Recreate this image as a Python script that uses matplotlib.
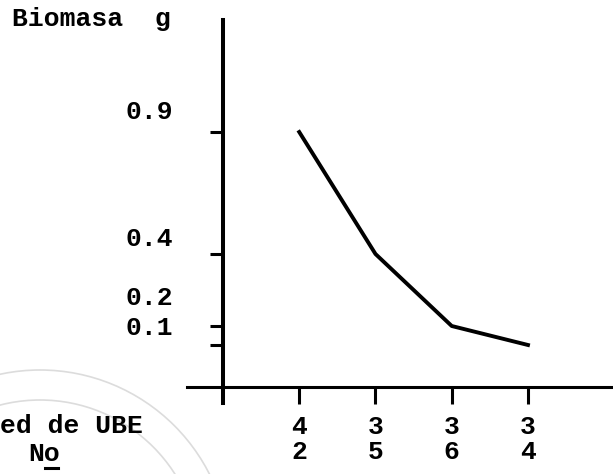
import numpy as np
import matplotlib.pyplot as plt
from matplotlib.patches import Ellipse
from matplotlib.lines import Line2D

# datos
ube_labels = ["4\n2", "3\n5", "3\n6", "3\n4"]
ube_pos = [1, 2, 3, 4]
biomasa = [0.9, 0.4, 0.2, 0.1]
ytick_vals = [0.9, 0.4, 0.2, 0.1]
ytick_labels = ["0.9", "0.4", "0.2", "0.1"]

# eje y dibujado a mano: posicion (px sobre el eje x) de cada marca
val_knots = [-1.0, 0.0, 0.1, 0.2, 0.4, 0.9, 3.0]
pos_knots = [-430.0, 0.0, 42.0, 61.0, 133.0, 255.0, 767.0]


def fwd(v):
    return np.interp(v, val_knots, pos_knots)


def inv(p):
    return np.interp(p, pos_knots, val_knots)


FONT = "Liberation Mono"
FS = 19
W, H = 613, 474

fig = plt.figure(figsize=(W / 100, H / 100), dpi=100)
ax = fig.add_axes([187 / W, 71 / H, 426 / W, 383 / H])

ax.set_yscale("function", functions=(fwd, inv))
ax.set_xlim(-0.472, 5.115)
ax.set_ylim(inv(-16), inv(367))

ax.plot(ube_pos, biomasa, color="black", lw=2.8, solid_joinstyle="round")

for s in ["top", "right"]:
    ax.spines[s].set_visible(False)
ax.spines["left"].set_position(("data", 0))
ax.spines["bottom"].set_position(("data", 0))
ax.spines["left"].set_linewidth(2.9)
ax.spines["bottom"].set_linewidth(2.2)

ax.set_xticks(ube_pos)
ax.set_xticklabels(ube_labels, fontfamily=FONT, fontweight="bold",
                   fontsize=FS, linespacing=1.05)
ax.tick_params(axis="x", direction="out", length=12, width=2.2, pad=8)

ax.set_yticks(ytick_vals)
ax.set_yticklabels([])
ax.yaxis.set_minor_locator(plt.NullLocator())
ax.tick_params(axis="y", direction="out", length=9.4, width=2.2)

# etiquetas mecanografiadas, un poco por encima de cada marca
label_dy = [14.4, 10.8, 20.2, 12.2]
for v, t, dy in zip(ytick_vals, ytick_labels, label_dy):
    ax.annotate(t, xy=(0, v), xytext=(-36, dy), textcoords="offset points",
                ha="right", va="center", fontfamily=FONT, fontweight="bold",
                fontsize=FS)

fig.text(12 / W, 1 - 19 / H, "Biomasa  g", ha="left", va="center",
         fontfamily=FONT, fontweight="bold", fontsize=FS)
fig.text(0, 1 - 426 / H, "ed de UBE", ha="left", va="center",
         fontfamily=FONT, fontweight="bold", fontsize=FS)
# "No" con la o subrayada, como en la maquina de escribir
fig.text(28 / W, 1 - 454 / H, "No", ha="left", va="center",
         fontfamily=FONT, fontweight="bold", fontsize=FS)
fig.add_artist(Line2D([45 / W, 58 / W], [1 - 468 / H, 1 - 468 / H],
                      transform=fig.transFigure, color="black", lw=2.2))

# sello de agua tenue abajo a la izquierda
for r in [190, 160]:
    fig.add_artist(Ellipse((40 / W, 1 - 560 / H), 2 * r / W, 2 * r / H,
                           transform=fig.transFigure, fill=False,
                           edgecolor="#dcdcdc", lw=1.2, zorder=0))

fig.savefig("out.png", dpi=100)
